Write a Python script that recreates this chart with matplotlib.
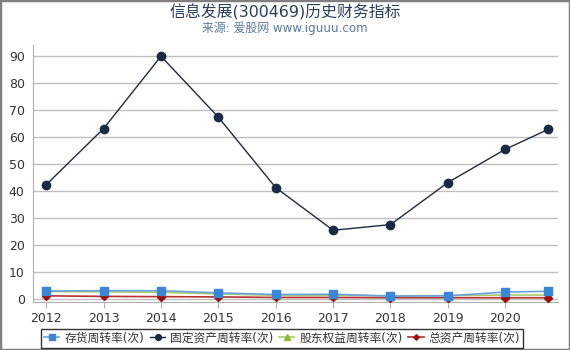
import matplotlib
matplotlib.use("Agg")
import matplotlib.pyplot as plt
from matplotlib.patches import Rectangle

plt.rcParams['font.family'] = ['DejaVu Sans', 'Noto Sans CJK SC']

x_pos = [2012, 2013, 2014, 2015, 2016, 2017, 2018, 2019, 2020, 2020.75]
tick_years = [2012, 2013, 2014, 2015, 2016, 2017, 2018, 2019, 2020]
inventory = [2.9, 3.0, 3.0, 2.2, 1.6, 1.7, 1.0, 1.1, 2.5, 2.8]
fixed_assets = [42.3, 63.1, 89.9, 67.3, 41.2, 25.4, 27.5, 43.1, 55.4, 62.8]
equity = [2.7, 2.6, 2.4, 1.8, 1.3, 1.3, 1.1, 1.2, 1.4, 1.4]
total_assets = [1.1, 0.9, 0.8, 0.7, 0.5, 0.5, 0.4, 0.4, 0.4, 0.4]
labels = ['存货周转率(次)', '固定资产周转率(次)', '股东权益周转率(次)', '总资产周转率(次)']

fig = plt.figure(figsize=(5.7, 3.5), dpi=100)
ax = fig.add_axes([0.058, 0.137, 0.921, 0.734])

ax.plot(x_pos, inventory, color='#6aa2e0', lw=1.2, marker='s', ms=6,
        mfc='#3a86d8', mec='#3a86d8', label=labels[0], zorder=4)
ax.plot(x_pos, fixed_assets, color='#1c2b45', lw=1.0, marker='o', ms=6,
        mfc='#1c2b45', mec='#1c2b45', label=labels[1], zorder=5)
ax.plot(x_pos, equity, color='#a8cc6a', lw=1.2, marker='^', ms=6,
        mfc='#8cb832', mec='#8cb832', label=labels[2], zorder=3)
ax.plot(x_pos, total_assets, color='#b83030', lw=1.2, marker='D', ms=4,
        mfc='#9a0e0e', mec='#9a0e0e', label=labels[3], zorder=3)

ax.set_xlim(2011.77, 2020.92)
ax.set_ylim(-1.2, 94)
ax.set_xticks(tick_years)
ax.set_xticklabels([str(y) for y in tick_years])
ax.set_yticks(range(0, 91, 10))
ax.grid(axis='y', color='#c0c0c0', lw=1)
ax.set_axisbelow(True)
for s in ['top', 'right']:
    ax.spines[s].set_visible(False)
ax.spines['left'].set_color('#b0b0b0')
ax.spines['bottom'].set_color('#b0b0b0')
ax.tick_params(axis='both', colors='#b0b0b0', labelcolor='#333333', labelsize=9, length=4)
ax.tick_params(axis='y', length=0, pad=6)

fig.text(0.5, 0.965, '信息发展(300469)历史财务指标', ha='center', va='center',
         fontsize=11.4, color='#2a3f5f')
fig.text(0.5, 0.918, '来源: 爱股网 www.iguuu.com', ha='center', va='center',
         fontsize=8.6, color='#5a7aa0')

leg = fig.legend(loc='center', bbox_to_anchor=(0.4947, 0.034), ncol=4, fontsize=8.5,
                 frameon=True, fancybox=False, edgecolor='black', handlelength=1.3,
                 markerscale=0.7, handletextpad=0.4, columnspacing=0.5, borderpad=0.25)
leg.get_frame().set_linewidth(1.0)
for t in leg.get_texts():
    t.set_color('#333333')

fig.patches.append(Rectangle((0, 0), 1, 1, transform=fig.transFigure, fill=False,
                             edgecolor='#808080', lw=2.5))

fig.savefig('out.png', dpi=100)
